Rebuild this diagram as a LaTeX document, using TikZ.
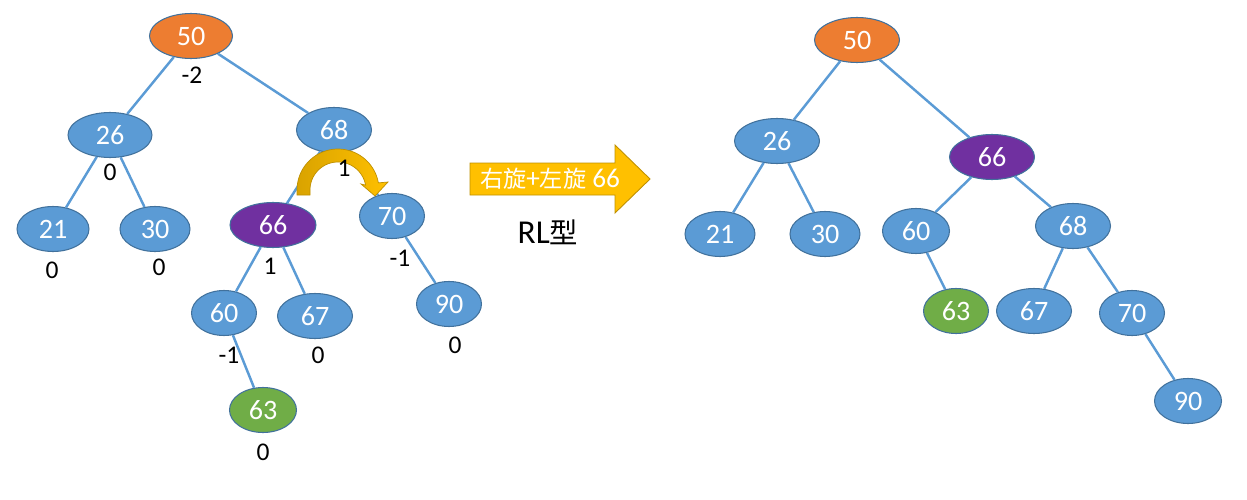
\documentclass[tikz,border=0pt]{standalone}
\usepackage{fontspec}
\setmainfont{Carlito}
\newfontfamily\cjk{Noto Sans CJK SC}[Scale=0.85]
\usetikzlibrary{shapes.geometric}
\definecolor{nblue}{HTML}{5B9BD5}
\definecolor{nbord}{HTML}{41719C}
\definecolor{norange}{HTML}{ED7D31}
\definecolor{npurple}{HTML}{7030A0}
\definecolor{ngreen}{HTML}{70AD47}
\definecolor{ngold}{HTML}{FFC000}
\definecolor{ngoldd}{HTML}{BF9000}
\definecolor{ngoldm}{HTML}{D9A300}
\tikzset{
  tn/.style={ellipse,draw=nbord,line width=0.6pt,fill=nblue,text=white,inner sep=0pt,
    minimum height=0.9cm,minimum width=1.5cm,font=\fontsize{16}{16}\selectfont},
  orn/.style={tn,fill=norange},
  pun/.style={tn,fill=npurple},
  grn/.style={tn,fill=ngreen},
  bal/.style={font=\fontsize{14.5}{14.5}\selectfont,text=black,inner sep=0pt},
  edge/.style={draw=nblue,line width=1.4pt}
}
\begin{document}
\begin{tikzpicture}[x=0.02cm,y=-0.02cm]
\useasboundingbox (0,0) rectangle (1247,500);
% left tree
\node[orn,minimum width=1.66cm] (a50) at (191,36) {50};
\node[tn,minimum width=1.68cm] (a26) at (110,135) {26};
\node[tn] (a68) at (334,130) {68};
\node[tn,minimum width=1.44cm] (a21) at (53,229) {21};
\node[tn,minimum width=1.4cm] (a30) at (155,229) {30};
\node[pun,minimum width=1.72cm] (a66) at (273,225) {66};
\node[tn,minimum width=1.3cm] (a70) at (392,216) {70};
\node[tn,minimum width=1.3cm] (a60) at (224,313) {60};
\node[tn] (a67) at (315,316) {67};
\node[tn,minimum width=1.3cm] (a90) at (449,304) {90};
\node[grn,minimum width=1.34cm] (a63) at (263,410) {63};
% right tree
\node[orn,minimum width=1.7cm] (b50) at (857,40) {50};
\node[tn,minimum width=1.7cm] (b26) at (777,141) {26};
\node[pun,minimum width=1.7cm] (b66) at (992,157) {66};
\node[tn,minimum width=1.4cm] (b21) at (720,234) {21};
\node[tn,minimum width=1.4cm] (b30) at (825,234) {30};
\node[tn,minimum width=1.34cm] (b60) at (916,231) {60};
\node[tn] (b68) at (1073,226) {68};
\node[grn,minimum width=1.3cm] (b63) at (956,311) {63};
\node[tn] (b67) at (1034,311) {67};
\node[tn,minimum width=1.3cm] (b70) at (1132,313) {70};
\node[tn,minimum width=1.34cm] (b90) at (1188,401) {90};
% edges
\foreach \p/\c in {a50/a26,a50/a68,a26/a21,a26/a30,a68/a66,a68/a70,a66/a60,a66/a67,a70/a90,a60/a63,
  b50/b26,b50/b66,b26/b21,b26/b30,b66/b60,b66/b68,b60/b63,b68/b67,b68/b70,b70/b90}
  \draw[edge] (\p) -- (\c);
% balance factors
\node[bal] (f50) at (192,75) {-2};
\node[bal] (f26) at (110,172) {0};
\node[bal] (f21) at (52,270) {0};
\node[bal] (f30) at (159,267) {0};
\node[bal] (f66) at (270,266) {1};
\node[bal] (f70) at (400,258) {-1};
\node[bal] (f60) at (229,355) {-1};
\node[bal] (f67) at (318,355) {0};
\node[bal] (f90) at (455,345) {0};
\node[bal] (f63) at (263,452) {0};
% curved arrow
\path[left color=ngoldm,right color=ngold,draw=ngoldd,line width=0.4pt]
  (297,195) -- plot[domain=180:350,samples=40] ({338+41*cos(\x)},{190+41*sin(\x)})
  -- (388,182) -- (375,196) -- (361,184)
  -- plot[domain=350:180,samples=40] ({338+28*cos(\x)},{190+28*sin(\x)})
  -- (310,195) -- cycle;
\node[bal] (f68) at (344,168) {1};
% big arrow
\filldraw[fill=ngold,draw=ngoldd,line width=0.5pt]
  (470,163) -- (615,163) -- (615,145) -- (650,179) -- (615,213) -- (615,195) -- (470,195) -- cycle;
\node[text=white,font=\fontsize{15.5}{15.5}\selectfont,inner sep=0pt] (t1) at (550,179) {{\cjk 右旋}+{\cjk 左旋} 66};
\node[font=\fontsize{19}{19}\selectfont,inner sep=0pt] (t2) at (548,232) {RL{\cjk 型}};
\end{tikzpicture}
\end{document}
